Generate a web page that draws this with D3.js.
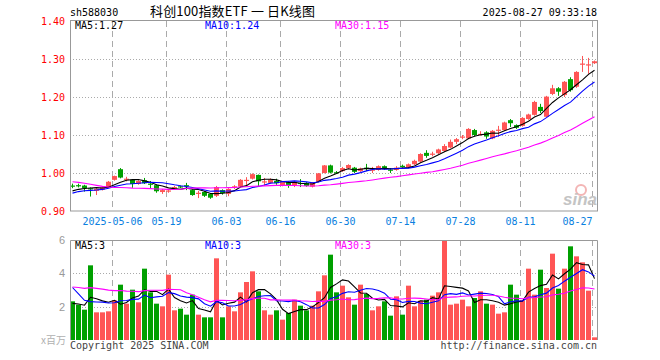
<!DOCTYPE html>
<html>
<head>
<meta charset="utf-8">
<script src="https://cdn.jsdelivr.net/npm/d3@7"></script>
<style>
body{margin:0;background:#fff;}
svg{display:block;}
text{font-family:"DejaVu Sans Mono",monospace;font-size:10px;}
</style>
</head>
<body>
<svg id="chart" width="660" height="360"></svg>
<script>
// sh588030 daily candles, 2025-04-22 .. 2025-08-27 (88 sessions)
var opens = [.967,.968,.967,.960,.953,.956,.963,.982,1.010,.983,
  .982,.971,.981,.972,.968,.950,.952,.962,.965,.968,
  .955,.946,.950,.945,.940,.955,.945,.962,.964,.980,
  .985,.995,.976,.974,.979,.967,.976,.968,.974,.974,
  .964,.977,1.000,1.020,1.002,1.005,1.012,1.014,1.005,1.014,
  1.007,1.008,1.018,1.009,1.008,1.019,1.015,1.023,1.030,1.053,
  1.049,1.052,1.058,1.067,1.082,1.094,1.091,1.113,1.101,1.107,
  1.091,1.112,1.113,1.139,1.126,1.124,1.142,1.153,1.174,1.148,
  1.208,1.223,1.205,1.247,1.227,1.285,1.284,1.289];
var highs = [.972,.972,.969,.962,.960,.964,.979,.993,1.013,.990,
  .983,.981,.987,.979,.970,.958,.958,.966,.967,.974,
  .957,.953,.952,.947,.966,.957,.960,.968,.984,.989,
  .999,.996,.987,.986,.985,.978,.978,.979,.984,.976,
  .976,1.000,1.021,1.022,1.005,1.016,1.023,1.016,1.014,1.024,
  1.016,1.020,1.020,1.013,1.018,1.022,1.025,1.035,1.052,1.060,
  1.056,1.064,1.076,1.088,1.092,1.100,1.118,1.116,1.110,1.110,
  1.113,1.124,1.135,1.142,1.128,1.147,1.156,1.190,1.182,1.203,
  1.232,1.226,1.242,1.252,1.268,1.308,1.303,1.296];
var lows = [.960,.962,.951,.938,.942,.954,.961,.980,.986,.978,
  .961,.969,.971,.958,.948,.945,.948,.959,.960,.955,
  .940,.934,.937,.932,.937,.943,.939,.958,.962,.968,
  .983,.963,.966,.972,.969,.965,.961,.963,.963,.964,
  .962,.975,.999,.999,.998,1.003,1.010,1.000,1.003,1.005,
  1.000,1.006,1.008,1.000,1.006,1.014,1.013,1.021,1.028,1.040,
  1.044,1.050,1.055,1.065,1.076,1.089,1.089,1.096,1.098,1.090,
  1.089,1.095,1.111,1.121,1.116,1.122,1.140,1.151,1.158,1.146,
  1.205,1.203,1.200,1.214,1.224,1.266,1.261,1.287];
var closes = [.966,.966,.960,.957,.958,.962,.977,.992,.988,.985,
  .971,.979,.973,.970,.952,.955,.954,.963,.963,.966,
  .942,.948,.940,.935,.963,.947,.958,.965,.982,.982,
  .997,.978,.978,.983,.973,.976,.967,.977,.972,.966,
  .974,.999,1.020,1.001,1.001,1.013,1.021,1.003,1.012,1.012,
  1.009,1.018,1.010,1.007,1.014,1.017,1.023,1.032,1.050,1.045,
  1.051,1.062,1.071,1.082,1.089,1.096,1.116,1.100,1.103,1.096,
  1.111,1.114,1.133,1.131,1.119,1.145,1.154,1.187,1.163,1.201,
  1.223,1.214,1.240,1.218,1.266,1.288,1.286,1.294];
// volume in millions of shares
var volumes = [2.32,2.12,1.82,4.48,1.66,1.66,1.72,2.38,3.32,2.18,
  3.02,2.26,4.28,2.86,2.18,2.02,3.92,1.78,1.88,1.52,
  2.72,1.52,1.36,1.36,4.90,1.36,2.02,1.72,2.86,3.48,
  4.12,2.92,1.78,1.52,1.78,1.22,1.62,2.42,2.06,1.78,
  2.06,2.92,3.88,5.12,2.86,3.26,2.56,2.12,3.32,2.76,
  1.78,2.02,2.32,1.46,2.62,1.52,3.26,2.02,2.36,2.42,
  2.66,2.86,5.98,2.12,2.18,2.42,2.02,2.52,2.92,2.18,
  2.12,1.58,1.66,3.32,2.72,2.38,4.28,2.72,4.22,3.12,
  5.18,3.08,4.28,5.62,5.02,4.66,2.96,0.16];
// sessions before the window (03-11 .. 04-21), only used so the moving averages start right
var priorCloses = [1.020,1.030,1.035,1.045,1.040,1.030,1.020,1.004,
  1.005,.995,.990,.985,.990,.975,.970,.975,.970,.945,
  .905,.915,.925,.940,.945,.948,.947,.946,.948,.952,.953];
var priorVolumes = [3.0,3.4,3.2,2.9,3.14,3.5,3.3,3.1,3.2,3.18,3.1,
  2.4,2.2,2.1,2.3,2.0,2.18,2.2,7.0,6.5,6.0,5.6,5.3,1.9,1.7,
  2.3,2.2,2.1,2.08];

var tickIndex = [7,16,26,35,45,55,65,75,87];
var tickLabels = ["2025-05-06","05-19","06-03","06-16","06-30","07-14","07-28","08-11","08-27"];
var priceTicks = [0.90,1.00,1.10,1.20,1.30,1.40];
var volTicks = [2,4,6];
var maPeriods = [5,10,30];
var maColors = ["#000000","#0000ff","#ff00ff"];

var RED = "#ff5555", GREEN = "#00a000", GRID = "#aaaaaa", FRAME = "#999999";

var svg = d3.select("#chart");
var n = closes.length;
var x = d3.scaleLinear().domain([0, n]).range([70, 598]);
var y = d3.scaleLinear().domain([0.9, 1.4]).range([211, 21]);
var vy = d3.scaleLinear().domain([0, 6]).range([340, 240]);

function movingAvg(prior, vals, p) {
  var all = prior.concat(vals), out = [];
  for (var i = 0; i < vals.length; i++) {
    var end = prior.length + i, s = 0;
    for (var k = end - p + 1; k <= end; k++) s += all[k];
    out.push(s / p);
  }
  return out;
}
var priceMA = maPeriods.map(function(p){ return movingAvg(priorCloses, closes, p); });
var volMA = maPeriods.map(function(p){ return movingAvg(priorVolumes, volumes, p); });

// header
svg.append("text").attr("x", 70).attr("y", 16).text("sh588030");
svg.append("text").attr("x", 150).attr("y", 15.5)
  .style("font-family", "'Noto Sans CJK SC'").style("font-size", "13px")
  .attr("textLength", 165).attr("lengthAdjust", "spacing")
  .text("科创100指数ETF 一 日K线图");
svg.append("text").attr("x", 597).attr("y", 16).attr("text-anchor", "end")
  .text("2025-08-27 09:33:18");

// ---- price panel
var main = svg.append("g");
main.selectAll(".hg").data(priceTicks.slice(1, -1)).enter().append("line")
  .attr("x1", 70).attr("x2", 597)
  .attr("y1", function(d){ return Math.round(y(d)) + 0.5; })
  .attr("y2", function(d){ return Math.round(y(d)) + 0.5; })
  .attr("stroke", GRID).attr("stroke-dasharray", "1,2");
main.selectAll(".vg").data(tickIndex).enter().append("line")
  .attr("x1", function(d){ return x(d) + 0.5; }).attr("x2", function(d){ return x(d) + 0.5; })
  .attr("y1", 21).attr("y2", 211)
  .attr("stroke", GRID).attr("stroke-dasharray", "6,4");

// sina watermark
svg.append("circle").attr("cx", 581).attr("cy", 190).attr("r", 5)
  .attr("fill", "none").attr("stroke", "#f3b5b5").attr("stroke-width", 2);
svg.append("text").attr("x", 563).attr("y", 205)
  .style("font-family", "'Liberation Sans'").style("font-size", "17px")
  .style("font-style", "italic").style("font-weight", "bold")
  .attr("fill", "#c4c4c4").text("sina");

var idx = d3.range(n);
function col(i){ return closes[i] >= opens[i] ? RED : GREEN; }

main.selectAll(".wick").data(idx).enter().append("line")
  .attr("x1", function(i){ return x(i) + 2.5; }).attr("x2", function(i){ return x(i) + 2.5; })
  .attr("y1", function(i){ return y(highs[i]); }).attr("y2", function(i){ return y(lows[i]); })
  .attr("stroke", col);
main.selectAll(".body").data(idx).enter().append("rect")
  .attr("x", function(i){ return x(i); }).attr("width", 5)
  .attr("y", function(i){ return y(Math.max(opens[i], closes[i])); })
  .attr("height", function(i){ return Math.max(1.2, Math.abs(y(opens[i]) - y(closes[i]))); })
  .attr("fill", col);

var maLine = d3.line().x(function(d, i){ return x(i) + 2.5; });
priceMA.forEach(function(arr, k){
  main.append("path").datum(arr)
    .attr("d", maLine.y(function(d){ return y(d); }))
    .attr("fill", "none").attr("stroke", maColors[k]).attr("stroke-width", 1.1);
});

main.append("rect").attr("x", 70.5).attr("y", 20.5).attr("width", 527).attr("height", 190.5)
  .attr("fill", "none").attr("stroke", FRAME);

var yAxis = main.append("g").attr("transform", "translate(70,0)")
  .call(d3.axisLeft(y).tickValues(priceTicks).tickFormat(d3.format(".2f")).tickSize(0).tickPadding(5));
yAxis.select(".domain").remove();
yAxis.selectAll("text").attr("fill", "#ff0000")
  .style("font-family", "'DejaVu Sans Mono'").style("font-size", "10px");

var xAxis = main.append("g").attr("transform", "translate(0,211)")
  .call(d3.axisBottom(x).tickValues(tickIndex)
    .tickFormat(function(d, k){ return tickLabels[k]; }).tickSize(0).tickPadding(7));
xAxis.select(".domain").remove();
xAxis.selectAll("text").attr("fill", "#0a80e0")
  .style("font-family", "'DejaVu Sans Mono'").style("font-size", "10px");
xAxis.selectAll(".tick").filter(function(d){ return d === tickIndex[tickIndex.length - 1]; })
  .select("text").attr("text-anchor", "end");

var maX = [75, 205, 335];
maPeriods.forEach(function(p, k){
  main.append("text").attr("x", maX[k]).attr("y", 28.5).attr("fill", maColors[k])
    .text("MA" + p + ":" + priceMA[k][n - 1].toFixed(2));
});

// ---- volume panel
var vol = svg.append("g");
vol.selectAll(".hg").data(volTicks.slice(0, -1)).enter().append("line")
  .attr("x1", 70).attr("x2", 597)
  .attr("y1", function(d){ return Math.round(vy(d)) + 0.5; })
  .attr("y2", function(d){ return Math.round(vy(d)) + 0.5; })
  .attr("stroke", GRID).attr("stroke-dasharray", "1,2");
vol.selectAll(".vg").data(tickIndex).enter().append("line")
  .attr("x1", function(d){ return x(d) + 0.5; }).attr("x2", function(d){ return x(d) + 0.5; })
  .attr("y1", 240).attr("y2", 340)
  .attr("stroke", GRID).attr("stroke-dasharray", "6,4");

vol.selectAll(".bar").data(idx).enter().append("rect")
  .attr("x", function(i){ return x(i); }).attr("width", 5)
  .attr("y", function(i){ return vy(volumes[i]); })
  .attr("height", function(i){ return vy(0) - vy(volumes[i]); })
  .attr("fill", col);

volMA.forEach(function(arr, k){
  vol.append("path").datum(arr)
    .attr("d", maLine.y(function(d){ return vy(d); }))
    .attr("fill", "none").attr("stroke", maColors[k]).attr("stroke-width", 1.1);
});

vol.append("path").attr("d", "M70.5,340V240.5H597.5V340")
  .attr("fill", "none").attr("stroke", FRAME);

var vAxis = vol.append("g").attr("transform", "translate(70,0)")
  .call(d3.axisLeft(vy).tickValues(volTicks).tickFormat(d3.format("d")).tickSize(0).tickPadding(5));
vAxis.select(".domain").remove();
vAxis.selectAll("text").attr("fill", "#999999")
  .style("font-family", "'Liberation Sans'").style("font-size", "11px");

maPeriods.forEach(function(p, k){
  vol.append("text").attr("x", maX[k]).attr("y", 249).attr("fill", maColors[k])
    .text("MA" + p + ":" + Math.floor(volMA[k][n - 1]));
});

svg.append("text").attr("x", 66).attr("y", 344).attr("text-anchor", "end")
  .style("font-family", "'Noto Sans CJK SC'").style("font-size", "10px")
  .attr("fill", "#b0b0b0").text("x百万");
svg.append("text").attr("x", 70).attr("y", 349).attr("fill", "#444").text("Copyright 2025 SINA.COM");
svg.append("text").attr("x", 597).attr("y", 349).attr("text-anchor", "end")
  .attr("fill", "#444").text("http://finance.sina.com.cn");
</script>
</body>
</html>
